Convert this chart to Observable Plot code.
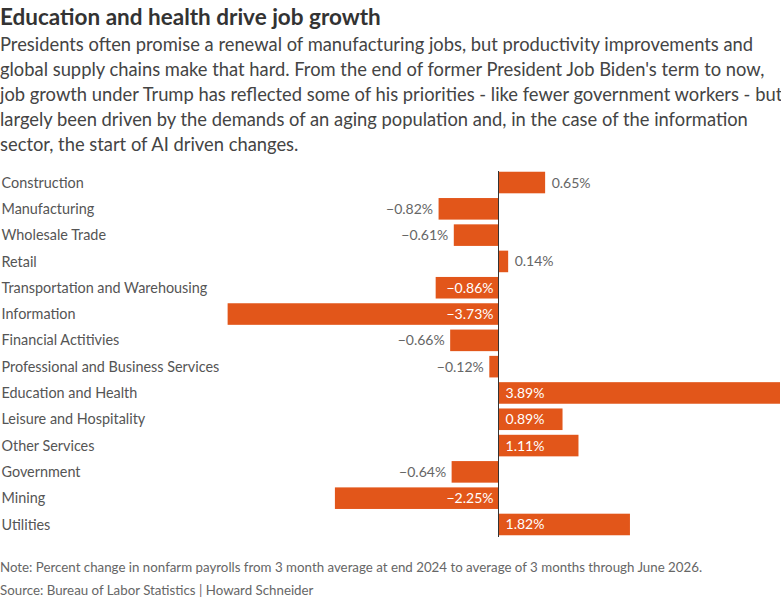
<!DOCTYPE html>
<html>
<head>
<meta charset="utf-8">
<script src="https://cdn.jsdelivr.net/npm/d3@7"></script>
<script src="https://cdn.jsdelivr.net/npm/@observablehq/plot@0.6"></script>
<style>
  html, body { margin: 0; padding: 0; background: #fff; }
  #wrap { width: 781px; font-family: Lato, "Open Sans", sans-serif; }
  .title { margin: 3.5px 0 0 0; font-size: 22.5px; line-height: 26px; font-weight: 700; color: #333; }
  .sub { margin: 2.7px 0 0 0; font-size: 18.35px; line-height: 25px; color: #444; white-space: nowrap; }
  #plot { margin-top: 9.8px; height: 373px; }
  .note { margin-top: 16px; font-size: 13.3px; line-height: 23px; color: #666; white-space: nowrap; }
</style>
</head>
<body>
<div id="wrap">
  <div class="title">Education and health drive job growth</div>
  <div class="sub">Presidents often promise a renewal of manufacturing jobs, but productivity improvements and<br>global supply chains make that hard. From the end of former President Job Biden's term to now,<br>job growth under Trump has reflected some of his priorities - like fewer government workers - but<br>largely been driven by the demands of an aging population and, in the case of the information<br>sector, the start of AI driven changes.</div>
  <div id="plot"></div>
  <div class="note">Note: Percent change in nonfarm payrolls from 3 month average at end 2024 to average of 3 months through June 2026.<br>Source: Bureau of Labor Statistics | Howard Schneider</div>
</div>
<script>
// Sectors, top to bottom
const sectors = [
  "Construction", "Manufacturing", "Wholesale Trade", "Retail",
  "Transportation and Warehousing", "Information", "Financial Actitivies",
  "Professional and Business Services", "Education and Health",
  "Leisure and Hospitality", "Other Services", "Government", "Mining", "Utilities"
];
// Percent change in payrolls for each sector
const changes = [0.65, -0.82, -0.61, 0.14, -0.86, -3.73, -0.66, -0.12, 3.89, 0.89, 1.11, -0.64, -2.25, 1.82];

const rows = sectors.map((name, i) => ({name, value: changes[i]}));
const fmt = d => d3.format(".2f")(d.value) + "%";
// wide bars carry their label inside, in white
const inside = d => Math.abs(d.value) >= 0.85;

const orange = "#e2561a";
const chart = Plot.plot({
  width: 781,
  height: 373,
  marginTop: 0,
  marginBottom: 0,
  marginLeft: 0,
  marginRight: 1,
  style: {fontFamily: "Lato, 'Open Sans', sans-serif", background: "#fff"},
  x: {domain: [-6.87, 3.89], axis: null},
  y: {domain: sectors, axis: null, padding: 0.18, round: false},
  marks: [
    Plot.barX(rows, {x: "value", y: "name", fill: orange}),
    Plot.ruleX([0], {stroke: "#333", strokeWidth: 1, insetTop: 4, insetBottom: 3}),
    Plot.text(sectors, {y: d => d, text: d => d, frameAnchor: "left", textAnchor: "start", dx: 1, fill: "#555", fontSize: 14.4}),
    Plot.text(rows.filter(d => d.value >= 0 && !inside(d)), {x: "value", y: "name", text: fmt, dx: 6, textAnchor: "start", fill: "#666", fontSize: 14}),
    Plot.text(rows.filter(d => d.value >= 0 && inside(d)), {x: 0, y: "name", text: fmt, dx: 7, textAnchor: "start", fill: "#fff", fontSize: 14}),
    Plot.text(rows.filter(d => d.value < 0 && !inside(d)), {x: "value", y: "name", text: fmt, dx: -6, textAnchor: "end", fill: "#666", fontSize: 14}),
    Plot.text(rows.filter(d => d.value < 0 && inside(d)), {x: 0, y: "name", text: fmt, dx: -5, textAnchor: "end", fill: "#fff", fontSize: 14})
  ]
});
document.getElementById("plot").appendChild(chart);
</script>
</body>
</html>
